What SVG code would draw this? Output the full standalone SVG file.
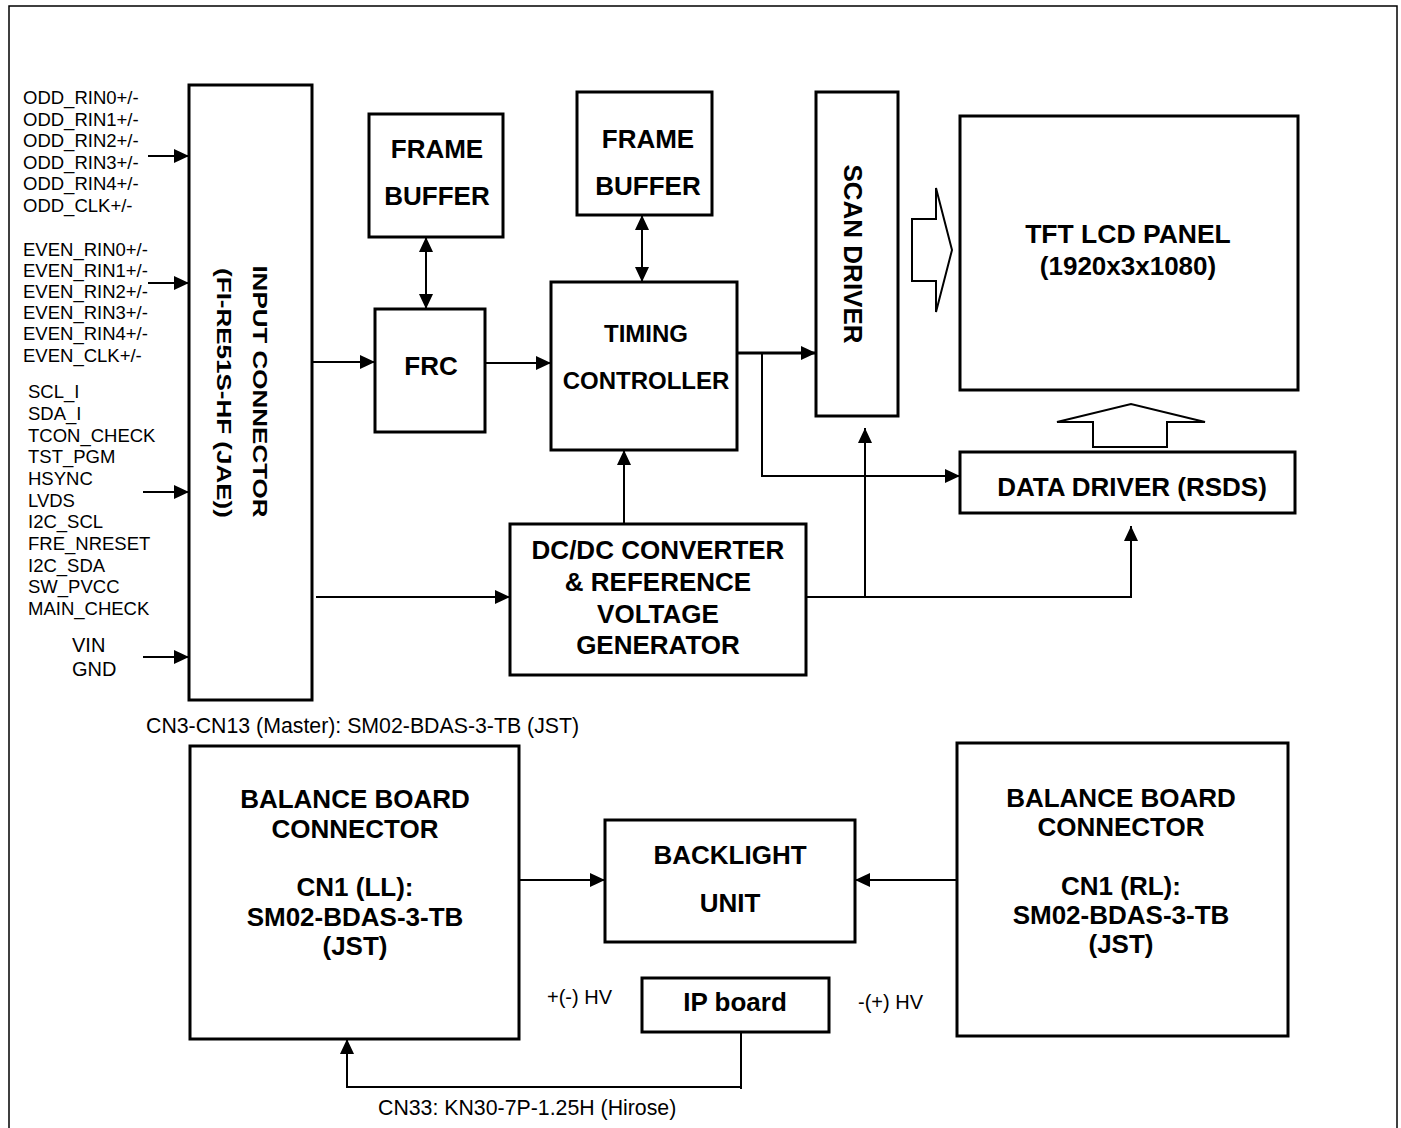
<svg xmlns="http://www.w3.org/2000/svg" width="1401" height="1128" viewBox="0 0 1401 1128">
<defs>
<marker id="ah" viewBox="0 0 15 14" markerWidth="15" markerHeight="14" refX="15" refY="7" orient="auto-start-reverse" markerUnits="userSpaceOnUse"><path d="M0,0 L15,7 L0,14 z" fill="#000"/></marker>
</defs>
<style>
.box{fill:#fff;stroke:#000;stroke-width:3}
.b{font-family:"Liberation Sans",Arial,sans-serif;font-weight:bold;font-size:26px;fill:#000;text-anchor:middle}
.s{font-family:"Liberation Sans",Arial,sans-serif;font-size:18.5px;fill:#000}
.m{font-family:"Liberation Sans",Arial,sans-serif;font-size:21.3px;fill:#000}
.c{fill:none;stroke:#000;stroke-width:2}
.ar{marker-end:url(#ah)}
.hol{fill:#fff;stroke:#000;stroke-width:2}
</style>
<rect x="0" y="0" width="1401" height="1128" fill="#fff"/>
<rect x="9" y="6" width="1388" height="1140" fill="none" stroke="#000" stroke-width="1.5"/>

<g id="signals">
<text class="s" x="23" y="104">ODD_RIN0+/-</text>
<text class="s" x="23" y="125.5">ODD_RIN1+/-</text>
<text class="s" x="23" y="147">ODD_RIN2+/-</text>
<text class="s" x="23" y="168.5">ODD_RIN3+/-</text>
<text class="s" x="23" y="190">ODD_RIN4+/-</text>
<text class="s" x="23" y="211.5">ODD_CLK+/-</text>
<text class="s" x="23" y="255.5">EVEN_RIN0+/-</text>
<text class="s" x="23" y="276.7">EVEN_RIN1+/-</text>
<text class="s" x="23" y="298">EVEN_RIN2+/-</text>
<text class="s" x="23" y="319.2">EVEN_RIN3+/-</text>
<text class="s" x="23" y="340.4">EVEN_RIN4+/-</text>
<text class="s" x="23" y="361.6">EVEN_CLK+/-</text>
<text class="s" x="28" y="398.3">SCL_I</text>
<text class="s" x="28" y="420">SDA_I</text>
<text class="s" x="28" y="441.6">TCON_CHECK</text>
<text class="s" x="28" y="463.3">TST_PGM</text>
<text class="s" x="28" y="485">HSYNC</text>
<text class="s" x="28" y="506.6">LVDS</text>
<text class="s" x="28" y="528.3">I2C_SCL</text>
<text class="s" x="28" y="550">FRE_NRESET</text>
<text class="s" x="28" y="571.6">I2C_SDA</text>
<text class="s" x="28" y="593.3">SW_PVCC</text>
<text class="s" x="28" y="615">MAIN_CHECK</text>
<text class="s" x="72" y="651.5" style="font-size:20px">VIN</text>
<text class="s" x="72" y="676" style="font-size:20px">GND</text>
</g>

<g id="input-connector">
<rect class="box" x="189" y="85" width="123" height="615"/>
<text class="b" transform="translate(253,391.5) rotate(90) scale(1,0.75)">INPUT CONNECTOR</text>
<text class="b" transform="translate(217,393) rotate(90) scale(1,0.75)">(FI-RE51S-HF (JAE))</text>
</g>

<g id="frame-buffer-1">
<rect class="box" x="369" y="114" width="134" height="123"/>
<text class="b" x="437" y="158">FRAME</text>
<text class="b" x="437" y="205">BUFFER</text>
</g>

<g id="frc">
<rect class="box" x="375" y="309" width="110" height="123"/>
<text class="b" x="431" y="375">FRC</text>
</g>

<g id="frame-buffer-2">
<rect class="box" x="577" y="92" width="135" height="123"/>
<text class="b" x="648" y="148">FRAME</text>
<text class="b" x="648" y="195">BUFFER</text>
</g>

<g id="timing-controller">
<rect class="box" x="551" y="282" width="186" height="168"/>
<text class="b" x="646" y="342" style="font-size:24px">TIMING</text>
<text class="b" x="646" y="389" style="font-size:24px">CONTROLLER</text>
</g>

<g id="scan-driver">
<rect class="box" x="816" y="92" width="82" height="324"/>
<text class="b" transform="translate(844,254) rotate(90)">SCAN DRIVER</text>
</g>

<g id="tft-panel">
<rect class="box" x="960" y="116" width="338" height="274"/>
<text class="b" x="1128" y="243" style="font-size:26.5px">TFT LCD PANEL</text>
<text class="b" x="1128" y="275">(1920x3x1080)</text>
</g>

<g id="data-driver">
<rect class="box" x="960" y="452" width="335" height="61"/>
<text class="b" x="1132" y="496">DATA DRIVER (RSDS)</text>
</g>

<g id="dcdc">
<rect class="box" x="510" y="524" width="296" height="151"/>
<text class="b" x="658" y="559">DC/DC CONVERTER</text>
<text class="b" x="658" y="591">&amp; REFERENCE</text>
<text class="b" x="658" y="623">VOLTAGE</text>
<text class="b" x="658" y="654">GENERATOR</text>
</g>

<text class="m" x="146" y="733">CN3-CN13 (Master): SM02-BDAS-3-TB (JST)</text>

<g id="balance-left">
<rect class="box" x="190" y="746" width="329" height="293"/>
<text class="b" x="355" y="808">BALANCE BOARD</text>
<text class="b" x="355" y="838">CONNECTOR</text>
<text class="b" x="355" y="896">CN1 (LL):</text>
<text class="b" x="355" y="926">SM02-BDAS-3-TB</text>
<text class="b" x="355" y="955">(JST)</text>
</g>

<g id="backlight">
<rect class="box" x="605" y="820" width="250" height="122"/>
<text class="b" x="730" y="864">BACKLIGHT</text>
<text class="b" x="730" y="912">UNIT</text>
</g>

<g id="balance-right">
<rect class="box" x="957" y="743" width="331" height="293"/>
<text class="b" x="1121" y="807">BALANCE BOARD</text>
<text class="b" x="1121" y="836">CONNECTOR</text>
<text class="b" x="1121" y="895">CN1 (RL):</text>
<text class="b" x="1121" y="924">SM02-BDAS-3-TB</text>
<text class="b" x="1121" y="953">(JST)</text>
</g>

<g id="ip-board">
<rect class="box" x="642" y="978" width="187" height="54"/>
<text class="b" x="735" y="1011">IP board</text>
</g>

<text class="m" x="547" y="1004" style="font-size:20px">+(-) HV</text>
<text class="m" x="858" y="1009" style="font-size:20px">-(+) HV</text>
<text class="m" x="378" y="1115">CN33: KN30-7P-1.25H (Hirose)</text>

<g id="connectors">
<path class="c ar" d="M148,156 H189"/>
<path class="c ar" d="M148,283 H189"/>
<path class="c ar" d="M143,492 H189"/>
<path class="c ar" d="M143,657 H189"/>
<path class="c ar" d="M312,362 H375"/>
<path class="c ar" d="M485,363 H551"/>
<path class="c" d="M426,237 V309" marker-start="url(#ah)" marker-end="url(#ah)"/>
<path class="c" d="M642,215 V282" marker-start="url(#ah)" marker-end="url(#ah)"/>
<path class="c ar" d="M737,353 H816" style="stroke-width:3"/>
<path class="c ar" d="M762,353 V476 H960"/>
<path class="c ar" d="M316,597 H510"/>
<path class="c ar" d="M624,524 V450"/>
<path class="c ar" d="M806,597 H1131 V526"/>
<path class="c ar" d="M865,597 V428"/>
<path class="c ar" d="M519,880 H605"/>
<path class="c ar" d="M957,880 H855"/>
<path class="c" d="M741,1032 V1089"/>
<path class="c ar" d="M741,1087 H347 V1039"/>
<polygon class="hol" points="912,219 936,219 936,188 952,250 936,312 936,281 912,281"/>
<polygon class="hol" points="1093,447 1093,422 1057,422 1131,404 1205,422 1167,422 1167,447"/>
</g>
</svg>
